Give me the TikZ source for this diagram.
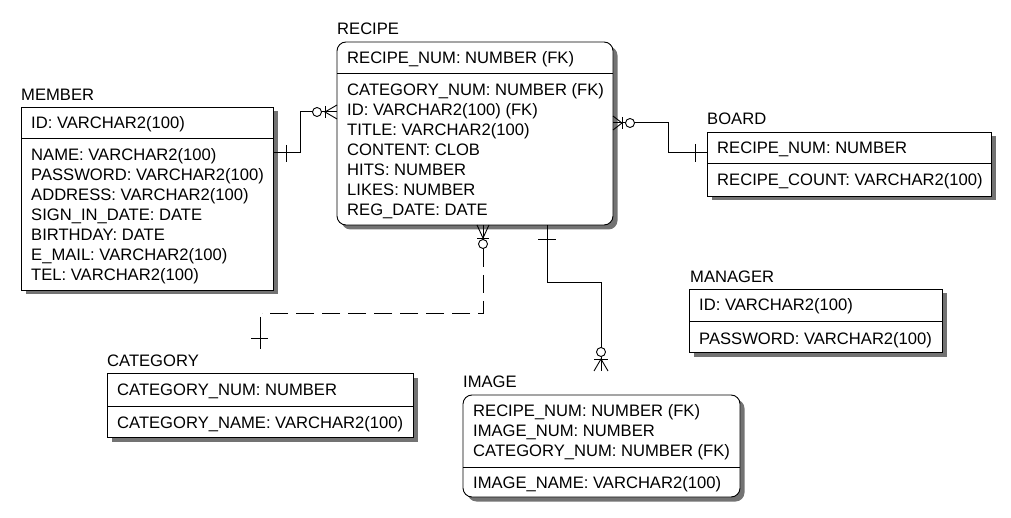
\documentclass[tikz,border=0pt]{standalone}
\usepackage{fontspec}
\newfontfamily\ef{Liberation Sans}
\usetikzlibrary{shadows}
\begin{document}
\begin{tikzpicture}[x=1pt,y=-1pt,
  ent/.style={draw, line width=0.9pt, fill=white, anchor=north west, inner sep=0pt, outer sep=0pt,
    drop shadow={shadow xshift=4.5pt, shadow yshift=-4.5pt, fill=black!55, opacity=1}},
  rent/.style={ent, rounded corners=9pt},
  fld/.style={anchor=base west, inner sep=0pt, font=\ef\fontsize{16.6}{20}\selectfont},
  conn/.style={line width=1pt},
  dconn/.style={line width=1pt, dash pattern=on 18pt off 8pt},
  sym/.style={line width=0.9pt},
  ring/.style={line width=0.9pt, fill=white}
]
\useasboundingbox (0,0) rectangle (1011,518);

% ---------- MEMBER ----------
\node[fld] (memberT) at (21,101) {MEMBER};
\node[ent, minimum width=252pt, minimum height=183pt] (member) at (21,107) {};
\draw[sym] (member.west |- 0,138) -- (member.east |- 0,138);
\node[fld] (m1) at (31,129) {ID: VARCHAR2(100)};
\node[fld] (m2) at (31,161) {NAME: VARCHAR2(100)};
\node[fld] (m3) at (31,181) {PASSWORD: VARCHAR2(100)};
\node[fld] (m4) at (31,201) {ADDRESS: VARCHAR2(100)};
\node[fld] (m5) at (31,221) {SIGN\_IN\_DATE: DATE};
\node[fld] (m6) at (31,241) {BIRTHDAY: DATE};
\node[fld] (m7) at (31,261) {E\_MAIL: VARCHAR2(100)};
\node[fld] (m8) at (31,281) {TEL: VARCHAR2(100)};

% ---------- RECIPE ----------
\node[fld] (recipeT) at (337,35) {RECIPE};
\node[rent, minimum width=276pt, minimum height=183pt] (recipe) at (337,42) {};
\draw[sym] (recipe.west |- 0,73) -- (recipe.east |- 0,73);
\node[fld] (r1) at (347,64) {RECIPE\_NUM: NUMBER (FK)};
\node[fld] (r2) at (347,96) {CATEGORY\_NUM: NUMBER (FK)};
\node[fld] (r3) at (347,116) {ID: VARCHAR2(100) (FK)};
\node[fld] (r4) at (347,136) {TITLE: VARCHAR2(100)};
\node[fld] (r5) at (347,156) {CONTENT: CLOB};
\node[fld] (r6) at (347,176) {HITS: NUMBER};
\node[fld] (r7) at (347,196) {LIKES: NUMBER};
\node[fld] (r8) at (347,216) {REG\_DATE: DATE};

% ---------- BOARD ----------
\node[fld] (boardT) at (707,125) {BOARD};
\node[ent, minimum width=284pt, minimum height=64pt] (board) at (707,132) {};
\draw[sym] (board.west |- 0,163) -- (board.east |- 0,163);
\node[fld] (b1) at (717,154) {RECIPE\_NUM: NUMBER};
\node[fld] (b2) at (717,186) {RECIPE\_COUNT: VARCHAR2(100)};

% ---------- MANAGER ----------
\node[fld] (managerT) at (690,283) {MANAGER};
\node[ent, minimum width=253pt, minimum height=63pt] (manager) at (689,289) {};
\draw[sym] (manager.west |- 0,321) -- (manager.east |- 0,321);
\node[fld] (g1) at (699,311) {ID: VARCHAR2(100)};
\node[fld] (g2) at (699,344) {PASSWORD: VARCHAR2(100)};

% ---------- CATEGORY ----------
\node[fld] (categoryT) at (107,366) {CATEGORY};
\node[ent, minimum width=306pt, minimum height=64pt] (category) at (107,373) {};
\draw[sym] (category.west |- 0,406) -- (category.east |- 0,406);
\node[fld] (c1) at (117,395) {CATEGORY\_NUM: NUMBER};
\node[fld] (c2) at (117,428) {CATEGORY\_NAME: VARCHAR2(100)};

% ---------- IMAGE ----------
\node[fld] (imageT) at (463,387) {IMAGE};
\node[rent, minimum width=277pt, minimum height=102pt] (image) at (463,395) {};
\draw[sym] (image.west |- 0,467) -- (image.east |- 0,467);
\node[fld] (i1) at (473,416) {RECIPE\_NUM: NUMBER (FK)};
\node[fld] (i2) at (473,436) {IMAGE\_NUM: NUMBER};
\node[fld] (i3) at (473,456) {CATEGORY\_NUM: NUMBER (FK)};
\node[fld] (i4) at (473,488) {IMAGE\_NAME: VARCHAR2(100)};

% ---------- MEMBER -- RECIPE ----------
\draw[conn] (member.east |- 0,153) -- (300,153) -- (300,112) -- (recipe.west |- 0,112);
\draw[sym] (286,145) -- (286,162);
\draw[sym] (325,106) -- (325,118);
\draw[sym] (recipe.west |- 0,105) -- (325,112) -- (recipe.west |- 0,119);
\draw[ring] (317,112) circle (4.5);

% ---------- RECIPE -- BOARD ----------
\draw[conn] (recipe.east |- 0,123) -- (668,123) -- (668,153) -- (board.west |- 0,153);
\draw[sym] (695,144) -- (695,162);
\draw[sym] (622,117) -- (622,129);
\draw[sym] (recipe.east |- 0,116) -- (622,123) -- (recipe.east |- 0,130);
\draw[ring] (630,123) circle (4.5);

% ---------- RECIPE -- CATEGORY ----------
\coordinate (catcorner) at (262,314);
\coordinate (catend) at (260,349);
\draw[dconn] (483,249) -- (483,314) -- (catcorner);
\draw[conn] (260,317) -- (catend);
\draw[sym] (recipe.south -| 483,0) -- (483,249);
\draw[sym] (recipe.south -| 477,0) -- (483,238) -- (recipe.south -| 489,0);
\draw[sym] (477,238) -- (489,238);
\draw[ring] (483,244) circle (4.5);
\draw[sym] (251,338) -- (268,338);

% ---------- RECIPE -- IMAGE ----------
\coordinate (imgend) at (601,371);
\draw[conn] (recipe.south -| 547,0) -- (547,283) -- (601,283) -- (imgend);
\draw[sym] (538,239) -- (556,239);
\draw[sym] (594,371) -- (601,359) -- (608,371);
\draw[sym] (594,359) -- (608,359);
\draw[ring] (601,352) circle (4.5);
\end{tikzpicture}
\end{document}
